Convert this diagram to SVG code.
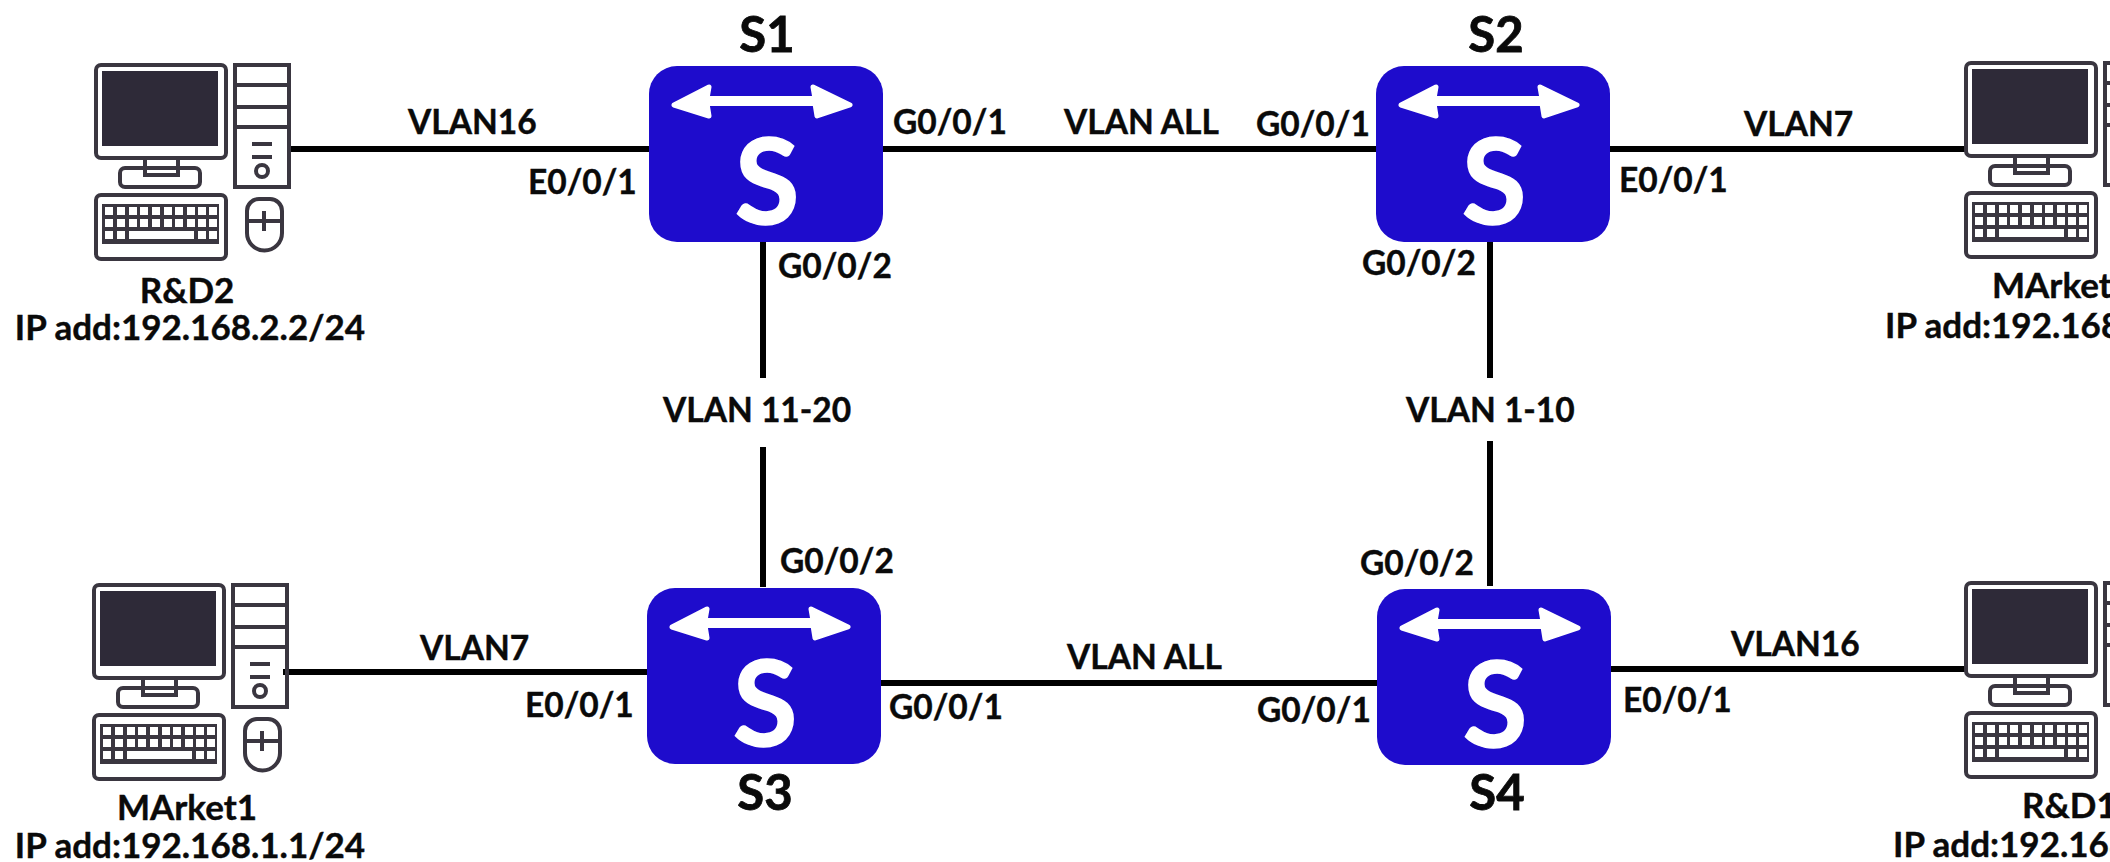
<svg xmlns="http://www.w3.org/2000/svg" width="2110" height="862" viewBox="0 0 2110 862">
<style>
text{font-family:Lato,"Liberation Sans",sans-serif;font-weight:700;fill:#0a0a0a;stroke:#0a0a0a;stroke-width:.4}
.l{font-size:33.5px}
.n{font-size:35px;text-anchor:middle}
.m{font-size:35px}
.h{font-size:49px;text-anchor:middle;stroke-width:.8}
.c{stroke:#000;stroke-width:6;fill:none}
.o{fill:none;stroke:#3a3640;stroke-width:4}
.d{fill:#2e2a38}
</style>
<defs>
<g id="sw">
<rect x="0" y="0" width="234" height="176" rx="28" fill="#1e0ccc"/>
<path d="M25 39L60 21L58 32.500H166L164 21L201 39L168 50L166 37.500H58L60 50Z" fill="#fff" stroke="#fff" stroke-width="5" stroke-linejoin="round"/>
<text x="118" y="158" text-anchor="middle" style="font-size:118px;fill:#fff;stroke:#fff;stroke-width:1.500;font-weight:700">S</text>
</g>
<g id="pc">
<rect x="3" y="4" width="130" height="93" rx="5" class="o"/>
<rect x="9" y="10" width="116" height="75" class="d"/>
<path d="M52 99V114H85V99" class="o"/>
<rect x="27" y="107" width="80" height="19" rx="5" class="o"/>
<rect x="3" y="134" width="130" height="64" rx="5" class="o"/>
<rect x="9" y="143" width="117" height="40" fill="#3a3640"/>
<g fill="#fff">
<rect x="12" y="146" width="8" height="8"/><rect x="24" y="146" width="8" height="8"/><rect x="36" y="146" width="8" height="8"/><rect x="47" y="146" width="8" height="8"/><rect x="59" y="146" width="8" height="8"/><rect x="71" y="146" width="8" height="8"/><rect x="82" y="146" width="8" height="8"/><rect x="94" y="146" width="8" height="8"/><rect x="105" y="146" width="8" height="8"/><rect x="116" y="146" width="8" height="8"/>
<rect x="12" y="158" width="8" height="8"/><rect x="24" y="158" width="8" height="8"/><rect x="36" y="158" width="8" height="8"/><rect x="47" y="158" width="8" height="8"/><rect x="59" y="158" width="8" height="8"/><rect x="71" y="158" width="8" height="8"/><rect x="82" y="158" width="8" height="8"/><rect x="94" y="158" width="8" height="8"/><rect x="105" y="158" width="8" height="8"/><rect x="116" y="158" width="8" height="8"/>
<rect x="12" y="170" width="8" height="8"/><rect x="24" y="170" width="8" height="8"/><rect x="36" y="170" width="65" height="8"/><rect x="105" y="170" width="8" height="8"/><rect x="116" y="170" width="8" height="8"/>
</g>
<rect x="142" y="4" width="54" height="122" class="o"/>
<path d="M142 24H196M142 46H196M142 66H196M159 83H179M159 96H179" class="o"/>
<circle cx="169" cy="110" r="6" class="o"/>
<path d="M154 150a12 12 0 0 1 12-12h11a12 12 0 0 1 12 12v22a17.500 17.500 0 0 1-35 0zM154 160H189M171 150V170" class="o"/>
</g>
</defs>
<rect width="2110" height="862" fill="#fff"/>
<g id="connectors">
<path class="c" d="M290 149H649"/>
<path class="c" d="M883 149H1376"/>
<path class="c" d="M1606 149H1966"/>
<path class="c" d="M763 242V378M763 447V587"/>
<path class="c" d="M1490 242V378M1490 441V586"/>
<path class="c" d="M283 672H648"/>
<path class="c" d="M877 683H1378"/>
<path class="c" d="M1610 669H1966"/>
</g>
<g id="S1"><use href="#sw" x="649" y="66"/><text class="h" x="767" y="52">S1</text></g>
<g id="S2"><use href="#sw" x="1376" y="66"/><text class="h" x="1496" y="52">S2</text></g>
<g id="S3"><use href="#sw" x="647" y="588"/><text class="h" x="765" y="810">S3</text></g>
<g id="S4"><use href="#sw" x="1377" y="589"/><text class="h" x="1497" y="810">S4</text></g>
<g id="R-D2"><use href="#pc" x="93" y="61"/><text class="n" x="187" y="303">R&amp;D2</text><text class="n" x="190" y="340">IP add:192.168.2.2/24</text></g>
<g id="MArket2"><use href="#pc" x="1963" y="59"/><text class="m" x="1992" y="298">MArket</text><text class="m" x="1885" y="338">IP add:192.168</text></g>
<g id="MArket1"><use href="#pc" x="91" y="581"/><text class="n" x="187" y="820">MArket1</text><text class="n" x="190" y="858">IP add:192.168.1.1/24</text></g>
<g id="R-D1"><use href="#pc" x="1963" y="579"/><text class="m" x="2022" y="818">R&amp;D1</text><text class="m" x="1893" y="857">IP add:192.168</text></g>
<g id="labels">
<text class="l" x="408" y="134">VLAN16</text><text class="l" x="528" y="194">E0/0/1</text>
<text class="l" x="893" y="134">G0/0/1</text><text class="l" x="1064" y="134">VLAN ALL</text><text class="l" x="1256" y="136">G0/0/1</text>
<text class="l" x="1619" y="192">E0/0/1</text><text class="l" x="1744" y="136">VLAN7</text>
<text class="l" x="778" y="278">G0/0/2</text><text class="l" x="1362" y="275">G0/0/2</text>
<text class="l" x="663" y="422">VLAN 11-20</text><text class="l" x="1406" y="422">VLAN 1-10</text>
<text class="l" x="780" y="573">G0/0/2</text><text class="l" x="1360" y="575">G0/0/2</text>
<text class="l" x="420" y="660">VLAN7</text><text class="l" x="525" y="717">E0/0/1</text>
<text class="l" x="889" y="719">G0/0/1</text><text class="l" x="1067" y="669">VLAN ALL</text><text class="l" x="1257" y="722">G0/0/1</text>
<text class="l" x="1623" y="712">E0/0/1</text><text class="l" x="1731" y="656">VLAN16</text>
</g>
</svg>
